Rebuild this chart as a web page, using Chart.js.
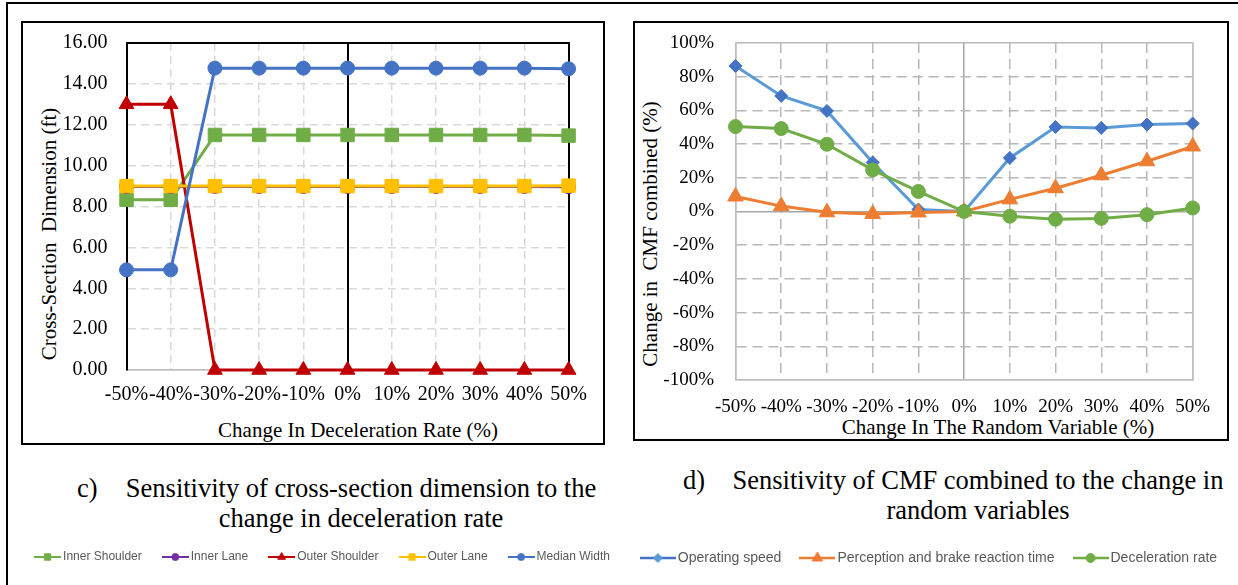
<!DOCTYPE html>
<html>
<head>
  <title>Sensitivity charts</title>
  <style>
    html, body { margin: 0; padding: 0; background: #fff; }
    body { width: 1238px; height: 585px; position: relative; overflow: hidden; font-family: 'Liberation Serif', 'Times New Roman', serif; color: #000; }
    .frame { position: absolute; left: 6px; top: 2px; width: 1300px; height: 700px; border-top: 2px solid #000; border-left: 2px solid #000; }
    .panel { position: absolute; border: 2px solid #000; box-sizing: border-box; }
    canvas { position: absolute; top: 0; }
    .title { position: absolute; font-size: 21px; line-height: 1; white-space: pre; transform: translate(-50%, -50%); }
    .title.rot { transform: translate(-50%, -50%) rotate(-90deg); }
    .caption { position: absolute; font-size: 26.5px; line-height: 30px; white-space: nowrap; }
  </style>
</head>
<body>
  <div class="frame"></div>
  <div class="panel" style="left:21px; top:21px; width:584px; height:424px;"></div>
  <div class="panel" style="left:633px; top:21px; width:596px; height:420px;"></div>

  <div class="title rot" style="left:49px; top:234px;">Cross-Section  Dimension (ft)</div>
  <div class="title" style="left:358px; top:430px;">Change In Deceleration Rate (%)</div>
  <div class="title rot" style="left:650px; top:234px;">Change in  CMF combined (%)</div>
  <div class="title" style="left:998px; top:427px;">Change In The Random Variable (%)</div>

  <div class="caption" style="left:77px; top:473px;">c)</div>
  <div class="caption" style="left:121px; top:473px; width:480px; text-align:center;">Sensitivity of cross-section dimension to the<br>change in deceleration rate</div>
  <div class="caption" style="left:683px; top:465px;">d)</div>
  <div class="caption" style="left:728px; top:465px; width:500px; text-align:center;">Sensitivity of CMF combined to the change in<br>random variables</div>

  <canvas id="dimChart" width="648" height="585" style="left:0px;"></canvas>
  <canvas id="cmfChart" width="630" height="585" style="left:616px;"></canvas>

  <script src="https://cdn.jsdelivr.net/npm/chart.js@4/dist/chart.umd.min.js"></script>
  <script>
    // categories (shared by both charts)
    var changeLabels = ['-50%', '-40%', '-30%', '-20%', '-10%', '0%', '10%', '20%', '30%', '40%', '50%'];

    // c) cross-section dimension (ft)
    var innerShoulder = [8.33, 8.33, 11.5, 11.5, 11.5, 11.5, 11.5, 11.5, 11.5, 11.5, 11.47];
    var innerLane = [8.98, 8.98, 8.98, 8.98, 8.98, 8.98, 8.98, 8.98, 8.98, 8.98, 8.97];
    var outerShoulder = [13, 13, 0, 0, 0, 0, 0, 0, 0, 0, 0];
    var outerLane = [9, 9, 9, 9, 9, 9, 9, 9, 9, 9, 9.02];
    var medianWidth = [4.9, 4.9, 14.77, 14.77, 14.77, 14.77, 14.77, 14.77, 14.77, 14.77, 14.74];
    var dimensionTicks = ['0.00', '2.00', '4.00', '6.00', '8.00', '10.00', '12.00', '14.00', '16.00'];

    // d) change in CMF combined (%)
    var operatingSpeed = [86.4, 68.6, 59.7, 29.1, 1.2, 0, 31.8, 50.2, 49.6, 51.6, 52.2];
    var perceptionTime = [8.9, 3.2, -0.5, -1.5, -0.6, 0, 7.2, 13.8, 21.5, 29.8, 38.6];
    var decelerationRate = [50.4, 49.2, 39.9, 24.7, 11.9, 0, -2.8, -4.6, -4.1, -1.9, 2.1];
    var cmfTicks = ['-100%', '-80%', '-60%', '-40%', '-20%', '0%', '20%', '40%', '60%', '80%', '100%'];

    var serif = "'Liberation Serif', 'Times New Roman', serif";
    var sans = "'Liberation Sans', Arial, sans-serif";
    Chart.defaults.font.family = serif;

    // small line + marker picture used as the legend symbol
    function legendIcon(lineColor, markColor, style, radius, len, lineWidth) {
      var c = document.createElement('canvas');
      c.width = len;
      c.height = 14;
      var g = c.getContext('2d');
      g.strokeStyle = lineColor;
      g.lineWidth = lineWidth;
      g.beginPath();
      g.moveTo(0, 7);
      g.lineTo(len, 7);
      g.stroke();
      g.fillStyle = markColor;
      g.strokeStyle = markColor;
      g.lineWidth = 1;
      Chart.helpers.drawPoint(g, { pointStyle: style, radius: radius, rotation: 0, borderWidth: 1 }, len / 2, 7);
      return c;
    }

    function series(label, data, lineColor, markColor, style, radius, order, icon) {
      return {
        label: label,
        data: data,
        borderColor: lineColor,
        backgroundColor: markColor,
        borderWidth: 3,
        pointStyle: style,
        pointRadius: radius,
        pointBackgroundColor: markColor,
        pointBorderColor: markColor,
        pointBorderWidth: 1,
        tension: 0,
        clip: false,
        order: order,
        icon: icon
      };
    }

    function legendOptions(size, boxWidth, padding) {
      return {
        position: 'bottom',
        labels: {
          usePointStyle: true,
          pointStyleWidth: boxWidth,
          padding: padding,
          color: '#595959',
          font: { family: sans, size: size },
          generateLabels: function(chart) {
            return chart.data.datasets.map(function(ds, i) {
              return {
                text: ds.label,
                pointStyle: ds.icon,
                fontColor: '#595959',
                fillStyle: 'transparent',
                strokeStyle: 'transparent',
                lineWidth: 0,
                hidden: false,
                datasetIndex: i
              };
            });
          }
        }
      };
    }

    // ---- c) chart ----
    var blackX = [0, 5, 10];
    new Chart(document.getElementById('dimChart'), {
      type: 'line',
      data: {
        labels: changeLabels,
        datasets: [
          series('Inner Shoulder', innerShoulder, '#70AD47', '#70AD47', 'rect', 9.5, 5, legendIcon('#70AD47', '#70AD47', 'rect', 4.5, 27, 2)),
          series('Inner Lane', innerLane, '#7030A0', '#7030A0', 'circle', 7, 4, legendIcon('#7030A0', '#7030A0', 'circle', 3.5, 27, 2)),
          series('Outer Shoulder', outerShoulder, '#C00000', '#C00000', 'triangle', 8.5, 3, legendIcon('#C00000', '#C00000', 'triangle', 4.5, 27, 2)),
          series('Outer Lane', outerLane, '#FFC000', '#FFC000', 'rect', 9.5, 2, legendIcon('#FFC000', '#FFC000', 'rect', 4.5, 27, 2)),
          series('Median Width', medianWidth, '#4472C4', '#4472C4', 'circle', 7, 1, legendIcon('#4472C4', '#4472C4', 'circle', 3.5, 27, 2))
        ]
      },
      options: {
        responsive: false,
        animation: false,
        layout: { padding: { top: 43, right: 0, bottom: 12, left: 0 } },
        plugins: {
          legend: legendOptions(12, 19, 24),
          tooltip: { enabled: false }
        },
        scales: {
          x: {
            offset: false,
            grid: {
              drawTicks: false,
              color: function(c) { return blackX.indexOf(c.index) >= 0 ? '#000' : '#D9D9D9'; },
              lineWidth: function(c) { return blackX.indexOf(c.index) >= 0 ? 2 : 1.5; }
            },
            border: {
              color: '#BFBFBF', width: 1.5,
              dash: function(c) { return (c.index === undefined || blackX.indexOf(c.index) >= 0) ? [] : [8, 5]; }
            },
            ticks: { color: '#000', font: { size: 20 }, padding: 13, maxRotation: 0, autoSkip: false },
            afterFit: function(s) { s.height = 157; }
          },
          y: {
            min: 0, max: 16,
            grid: {
              drawTicks: false,
              color: function(c) { return c.index === 8 ? '#000' : (c.index === 0 ? '#BFBFBF' : '#D9D9D9'); },
              lineWidth: function(c) { return c.index === 8 ? 2 : 1.5; }
            },
            border: {
              color: '#000', width: 2,
              dash: function(c) { return (c.index === undefined || c.index === 0 || c.index === 8) ? [] : [8, 5]; }
            },
            ticks: {
              stepSize: 2, color: '#000', font: { size: 20 }, padding: 19,
              callback: function(v, i) { return dimensionTicks[i]; }
            },
            afterFit: function(s) { s.width = 126.5; }
          },
          y2: {
            position: 'right', min: 0, max: 16,
            grid: { display: false },
            ticks: { display: false },
            border: { color: '#000', width: 2 },
            afterFit: function(s) { s.width = 79.4; }
          }
        }
      }
    });

    // ---- d) chart ----
    new Chart(document.getElementById('cmfChart'), {
      type: 'line',
      data: {
        labels: changeLabels,
        datasets: [
          series('Operating speed', operatingSpeed, '#5B9BD5', '#4472C4', 'rectRot', 6.5, 3, legendIcon('#4472C4', '#5B9BD5', 'rectRot', 4.5, 36, 2.5)),
          series('Perception and brake reaction time', perceptionTime, '#ED7D31', '#ED7D31', 'triangle', 9, 2, legendIcon('#ED7D31', '#ED7D31', 'triangle', 6, 36, 2.5)),
          series('Deceleration rate', decelerationRate, '#70AD47', '#70AD47', 'circle', 7, 1, legendIcon('#70AD47', '#70AD47', 'circle', 4.5, 36, 2.5))
        ]
      },
      options: {
        responsive: false,
        animation: false,
        layout: { padding: { top: 43, right: 0, bottom: 10, left: 0 } },
        plugins: {
          legend: legendOptions(14, 26, 23),
          tooltip: { enabled: false }
        },
        scales: {
          x: {
            offset: false,
            grid: {
              drawTicks: false,
              color: function(c) { return c.index === 5 ? '#A6A6A6' : '#B8B8B8'; },
              lineWidth: 1.5
            },
            border: {
              color: '#BFBFBF', width: 1.5,
              dash: function(c) { return (c.index === undefined || c.index === 0 || c.index === 5 || c.index === 10) ? [] : [10, 6]; }
            },
            ticks: { color: '#000', font: { size: 19 }, padding: 16, maxRotation: 0, autoSkip: false },
            afterFit: function(s) { s.height = 148; }
          },
          y: {
            min: -100, max: 100,
            grid: {
              drawTicks: false,
              color: function(c) { return c.index === 5 ? '#A6A6A6' : '#B8B8B8'; },
              lineWidth: 1.5
            },
            border: {
              color: '#BFBFBF', width: 1.5,
              dash: function(c) { return (c.index === undefined || c.index === 0 || c.index === 5 || c.index === 10) ? [] : [10, 6]; }
            },
            ticks: {
              stepSize: 20, color: '#000', font: { size: 19 }, padding: 21.5,
              callback: function(v, i) { return cmfTicks[i]; }
            },
            afterFit: function(s) { s.width = 119.5; }
          },
          y2: {
            position: 'right', min: -100, max: 100,
            grid: { display: false },
            ticks: { display: false },
            border: { color: '#BFBFBF', width: 1.5 },
            afterFit: function(s) { s.width = 53.3; }
          }
        }
      }
    });
  </script>
</body>
</html>
